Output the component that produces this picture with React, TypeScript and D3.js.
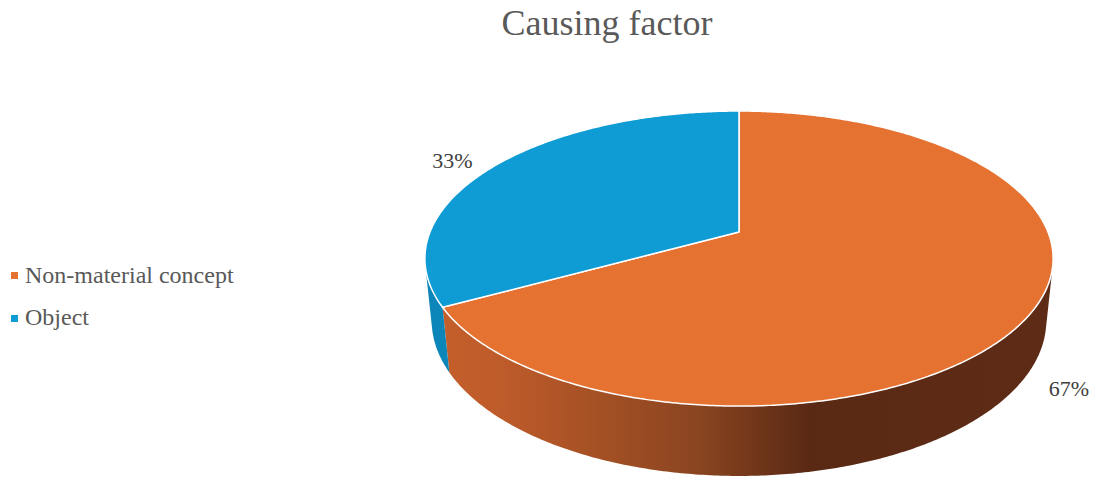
import React from "react";
import * as d3 from "d3";

const categories = ["Non-material concept", "Object"];
const values = [67, 33];
const labels = ["67%", "33%"];
const colors = ["#E57231", "#0F9BD4"];
const title = "Causing factor";

const W = 1093, H = 478;
const cx = 739, cy = 232;
const D = 1, R = 0.203, sinA = 0.462;
const cosA = Math.sqrt(1 - sinA * sinA);
const f = 1522, thick = 0.0463;
const FONT = { fontFamily: "Liberation Serif" };

function proj(theta: number, y: number): [number, number] {
  const x = R * Math.sin(theta);
  const z = -R * Math.cos(theta);
  const depth = D - y * sinA - z * cosA;
  return [cx + (f * x) / depth, cy - (f * (y * cosA - z * sinA)) / depth];
}

const visStart = Math.acos(-R / (D * cosA));
const visEnd = 2 * Math.PI - visStart;

function arcPts(a0: number, a1: number, y: number): [number, number][] {
  const n = Math.max(2, Math.ceil(Math.abs(a1 - a0) / 0.01));
  return d3.range(n + 1).map((i) => proj(a0 + ((a1 - a0) * i) / n, y));
}

export default function App() {
  const pie = d3.pie<number>().sort(null).startAngle(0).endAngle(2 * Math.PI);
  const arcs = pie(values);
  const line = d3.line();

  const walls = arcs.map((a, i) => {
    const s = Math.max(a.startAngle, visStart);
    const e = Math.min(a.endAngle, visEnd);
    if (e <= s) return null;
    const pts = [...arcPts(s, e, 0), ...arcPts(e, s, -thick)];
    return (
      <path
        key={"w" + i}
        d={line(pts) + "Z"}
        fill={i === 0 ? "url(#gOrange)" : "#0C86B8"}
      />
    );
  });

  const tops = arcs.map((a, i) => {
    const pts: [number, number][] = [[cx, cy], ...arcPts(a.startAngle, a.endAngle, 0)];
    return (
      <path
        key={"t" + i}
        d={line(pts) + "Z"}
        fill={colors[i]}
        stroke="#fff"
        strokeWidth={1.5}
        strokeLinejoin="round"
      />
    );
  });

  return (
    <svg width={W} height={H} style={{ position: "absolute", left: 0, top: 0 }}>
      <defs>
        <linearGradient id="gOrange" gradientUnits="userSpaceOnUse" x1={440} y1={0} x2={1055} y2={0}>
          <stop offset="0%" stopColor="#C45F2B" />
          <stop offset="10%" stopColor="#BE5B2A" />
          <stop offset="42%" stopColor="#8A4520" />
          <stop offset="60%" stopColor="#5A2914" />
          <stop offset="100%" stopColor="#5E2C16" />
        </linearGradient>
      </defs>
      <rect width={W} height={H} fill="#fff" />
      <text x={607} y={35} textAnchor="middle" fontSize={36} fill="#595959" style={FONT}>{title}</text>
      {walls}
      {tops}
      <text x={452.5} y={168} textAnchor="middle" fontSize={22} fill="#404040" style={FONT}>{labels[1]}</text>
      <text x={1069} y={396} textAnchor="middle" fontSize={22} fill="#404040" style={FONT}>{labels[0]}</text>
      {categories.map((c, i) => (
        <g key={c}>
          <rect x={11} y={272 + i * 43} width={7} height={7} fill={colors[i]} />
          <text x={25} y={283 + i * 42} fontSize={24} fill="#595959" style={FONT}>{c}</text>
        </g>
      ))}
    </svg>
  );
}
